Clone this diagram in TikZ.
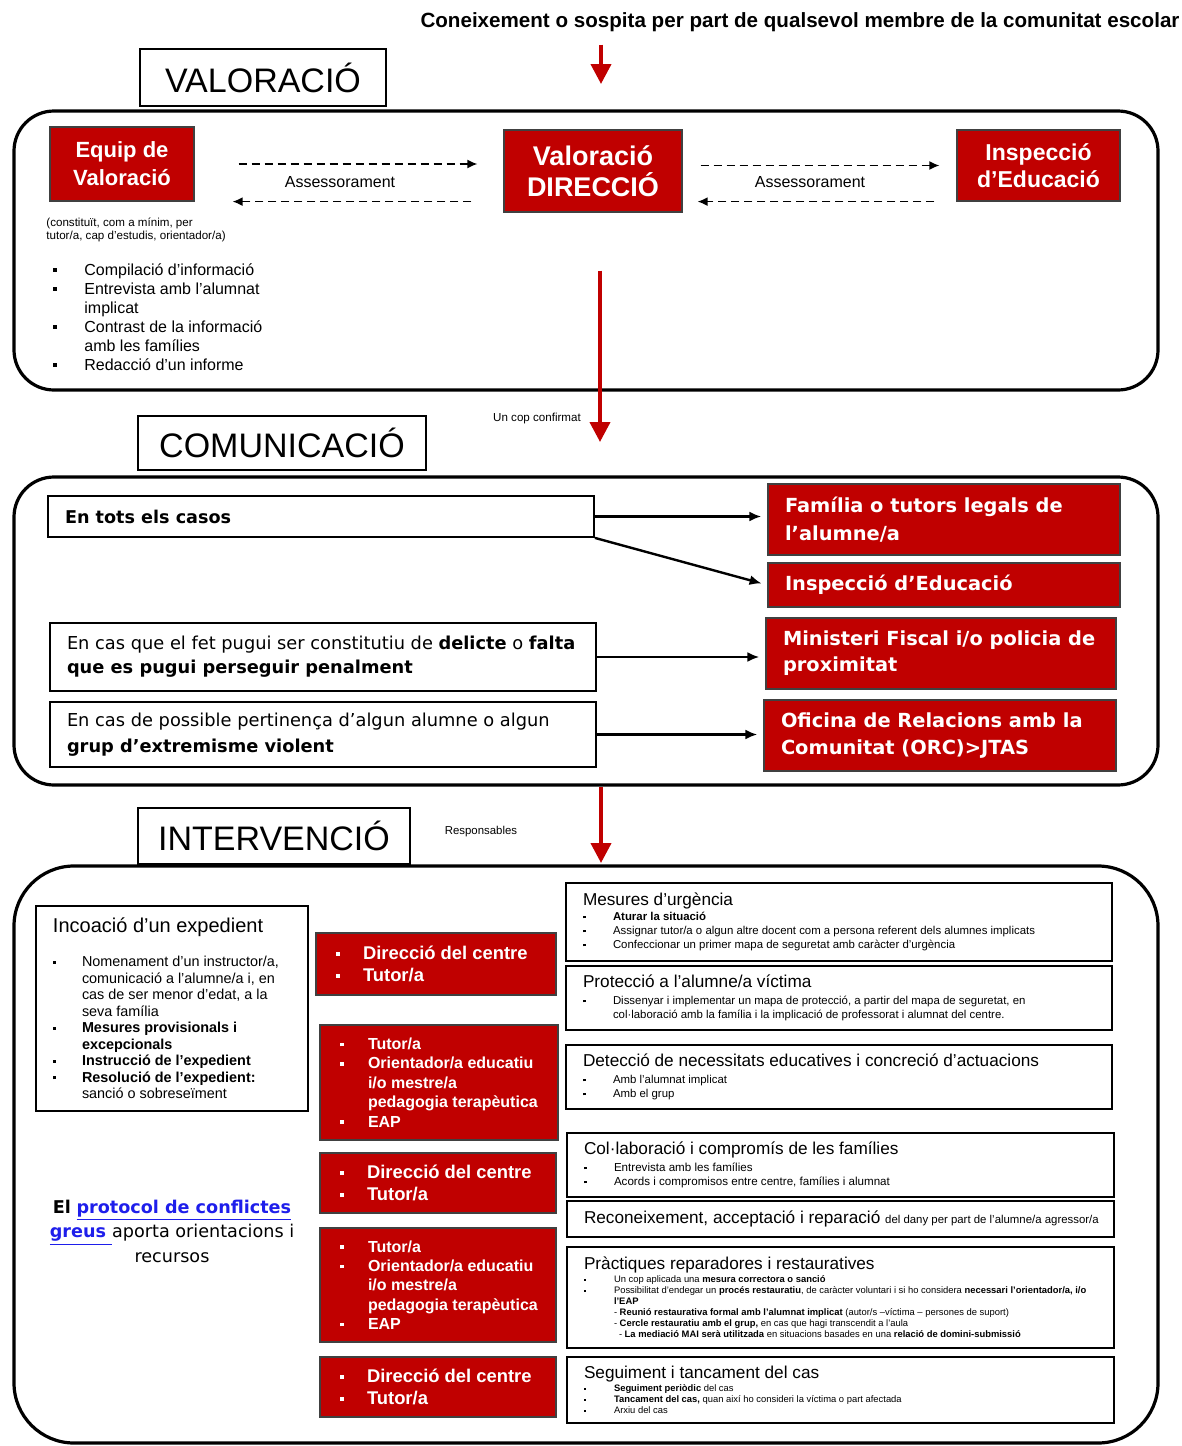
\documentclass[tikz,border=0pt]{standalone}
\usepackage{fontspec}
\setmainfont{Liberation Sans}
\newfontfamily\verd{DejaVu Sans}
\usepackage{tikz}
\usetikzlibrary{arrows.meta}
\definecolor{cred}{RGB}{192,0,0}
\definecolor{clink}{RGB}{30,30,235}
\newcommand{\fsz}[2]{\fontsize{#1}{#2}\selectfont}
\newcommand{\sqb}{\raisebox{0.2em}{\rule{0.22em}{0.22em}}}
\newcommand{\li}[2]{\mbox{\makebox[#1][l]{\sqb}#2}}
\newcommand{\lc}[2]{\mbox{\hspace*{#1}#2}}
\newcommand{\boxhead}[1]{{\fsz{8.6}{10}#1\par}}

\begin{document}
\begin{tikzpicture}[x=0.5pt, y=-0.5pt,
	redbox/.style={draw=black!75, line width=0.6pt, fill=cred, text=white, inner xsep=8.5pt},
	wbox/.style={draw=black, line width=0.9pt, fill=white, inner xsep=8.5pt},
	tagbox/.style={draw=black, line width=1pt, fill=white, font=\fsz{17}{20}},
	bigframe/.style={draw=black, line width=1.6pt, rounded corners=20pt},
	redarr/.style={draw=cred, line width=2pt, -{Triangle[width=10pt,length=10pt]}},
	blkarr/.style={line width=1.2pt, -{Latex[length=6pt,width=5pt]}, shorten >=3pt},
	dasharr/.style={line width=0.8pt, dash pattern=on 4pt off 2.5pt, -{Latex[length=5pt,width=4.5pt]}}]
	\useasboundingbox (0, 0) rectangle (1182, 1446);
	% Valoracio:
	\node[font=\bfseries\fsz{10.3}{12}](origen) at (800, 22){Coneixement o sospita per part de qualsevol membre de la comunitat escolar};
	\coordinate (o1) at (601, 84);
	\draw[redarr, shorten <=3pt] (origen.south -| o1) -- (o1);
	\node[tagbox, minimum width=123pt, minimum height=28.5pt](valtag) at (263, 77.5){VALORACIÓ};
	\draw[bigframe] (14, 111) rectangle (1158, 390);
	\node[redbox, minimum width=72pt, minimum height=37pt, align=center, font=\bfseries\fsz{11}{14}](equip) at (122, 164){Equip de\\Valoració};
	\node[redbox, minimum width=89pt, minimum height=41pt, align=center, font=\bfseries\fsz{13.5}{15.5}](dir) at (593, 171){Valoració\\DIRECCIÓ};
	\node[redbox, minimum width=81.5pt, minimum height=35.5pt, align=center, font=\bfseries\fsz{11.5}{13.5}](insp) at (1038.5, 165.5){Inspecció\\d’Educació};
	\draw[dasharr, shorten <=22pt, shorten >=13pt] (equip.east) -- (equip.east -| dir.west);
	\draw[dasharr, shorten <=16pt, shorten >=19pt] (dir.west |- equip.south) -- (equip.south east);
	\draw[dasharr, shorten <=9pt, shorten >=8.5pt] (dir.east |- insp.center) -- (insp.west);
	\draw[dasharr, shorten <=11pt, shorten >=7.5pt] (insp.south west) -- (insp.south west -| dir.east);
	\node[font=\fsz{8}{9}](as1) at (340, 182){Assessorament};
	\node[font=\fsz{8}{9}](as2) at (810, 182){Assessorament};
	\node[anchor=north west, inner sep=0pt, align=left, font=\fsz{5.8}{6.5}](constit) at (46, 218){(constituït, com a mínim, per\\tutor/a, cap d’estudis, orientador/a)};
	\node[anchor=north west, inner sep=0pt, align=left, font=\fsz{8}{9.5}](tasques) at (53, 263){\li{15.5pt}{Compilació d’informació}\\\li{15.5pt}{Entrevista amb l’alumnat}\\\lc{15.5pt}{implicat}\\\li{15.5pt}{Contrast de la informació}\\\lc{15.5pt}{amb les famílies}\\\li{15.5pt}{Redacció d’un informe}};
	\coordinate (c1) at (600, 442);
	\draw[redarr, shorten <=29pt] (dir.south -| c1) -- (c1);
	\node[font=\fsz{5.8}{7}](confirmat) at (537, 418){Un cop confirmat};
	% Comunicacio:
	\node[tagbox, minimum width=144pt, minimum height=27pt](comtag) at (282, 443){COMUNICACIÓ};
	\draw[bigframe] (14, 477) rectangle (1158, 785);
	\node[wbox, minimum width=273pt, minimum height=20.5pt, text width=256pt, align=flush left, font=\verd\bfseries\fsz{8.8}{12}](tots) at (321, 516.5){En tots els casos};
	\node[redbox, minimum width=176pt, minimum height=35.5pt, text width=159pt, align=flush left, font=\verd\bfseries\fsz{9.7}{14}](familia) at (944, 519.5){Família o tutors legals de\\l’alumne/a};
	\node[redbox, minimum width=176pt, minimum height=22pt, text width=159pt, align=flush left, font=\verd\bfseries\fsz{9.7}{14}](inspb) at (944, 585){Inspecció d’Educació};
	\node[wbox, minimum width=273pt, minimum height=34pt, text width=256pt, align=flush left, font=\verd\fsz{8.9}{12}](delicte) at (323, 657){\mbox{En cas que el fet pugui ser constitutiu de \textbf{delicte} o \textbf{falta}}\\\textbf{que es pugui perseguir penalment}};
	\node[redbox, minimum width=175pt, minimum height=35.5pt, text width=158pt, align=flush left, font=\verd\bfseries\fsz{9.7}{13}](fiscal) at (941, 653.5){Ministeri Fiscal i/o policia de\\proximitat};
	\node[wbox, minimum width=273pt, minimum height=32.5pt, text width=256pt, align=flush left, font=\verd\fsz{8.9}{13}](extrem) at (323, 734.5){\mbox{En cas de possible pertinença d’algun alumne o algun}\\\textbf{grup d’extremisme violent}};
	\node[redbox, minimum width=176pt, minimum height=35.5pt, text width=159pt, align=flush left, font=\verd\bfseries\fsz{9.7}{13.5}](orc) at (940, 735.5){Oficina de Relacions amb la\\Comunitat (ORC)>JTAS};
	\draw[blkarr] (tots.east) -- (tots.east -| familia.west);
	\draw[blkarr] (tots.south east) -- (inspb.west);
	\draw[blkarr] (delicte.east) -- (delicte.east -| fiscal.west);
	\draw[blkarr] (extrem.east) -- (extrem.east -| orc.west);
	\coordinate (i0) at (601, 787);
	\coordinate (i1) at (601, 863);
	\draw[redarr] (i0) -- (i1);
	% Intervencio:
	\node[tagbox, minimum width=136pt, minimum height=28pt](inttag) at (274, 836){INTERVENCIÓ};
	\node[font=\fsz{5.7}{7}](resp) at (481, 832){Responsables};
	\draw[bigframe, rounded corners=30pt] (14, 866) rectangle (1158, 1443);
	\node[wbox, minimum width=136pt, minimum height=102.5pt, text width=119pt, align=flush left](incoa) at (172, 1008.5){{\fsz{10}{12}Incoació d’un expedient\par}\vspace{8.8pt}{\fsz{7.2}{8.25}\li{14.5pt}{Nomenament d’un instructor/a,}\\\lc{14.5pt}{comunicació a l’alumne/a i, en}\\\lc{14.5pt}{cas de ser menor d’edat, a la}\\\lc{14.5pt}{seva família}\\\li{14.5pt}{\textbf{Mesures provisionals i}}\\\lc{14.5pt}{\textbf{excepcionals}}\\\li{14.5pt}{\textbf{Instrucció de l’expedient}}\\\li{14.5pt}{\textbf{Resolució de l’expedient:}}\\\lc{14.5pt}{sanció o sobreseïment}\par}};
	\node[align=center, font=\verd\fsz{8.8}{12.25}](protocol) at (172, 1231){\textbf{El} \textcolor{clink}{\textbf{\underline{protocol de conflictes}}}\\\textcolor{clink}{\textbf{\underline{greus\ }}}aporta orientacions i\\recursos};
	\node[redbox, minimum width=120pt, minimum height=31pt, text width=100pt, inner xsep=10pt, align=flush left, font=\bfseries\fsz{9.2}{11}](resp1) at (436, 964){\li{13.5pt}{Direcció del centre}\\\li{13.5pt}{Tutor/a}};
	\node[redbox, minimum width=119pt, minimum height=57.5pt, text width=99pt, inner xsep=10pt, align=flush left, font=\bfseries\fsz{8}{9.7}](resp2) at (439, 1082.5){\li{14pt}{Tutor/a}\\\li{14pt}{Orientador/a educatiu}\\\lc{14pt}{i/o mestre/a}\\\lc{14pt}{pedagogia terapèutica}\\\li{14pt}{EAP}};
	\node[redbox, minimum width=118pt, minimum height=30pt, text width=98pt, inner xsep=10pt, align=flush left, font=\bfseries\fsz{9.2}{11}](resp3) at (438, 1183){\li{13.5pt}{Direcció del centre}\\\li{13.5pt}{Tutor/a}};
	\node[redbox, minimum width=118pt, minimum height=57pt, text width=98pt, inner xsep=10pt, align=flush left, font=\bfseries\fsz{8}{9.7}](resp4) at (438, 1285){\li{14pt}{Tutor/a}\\\li{14pt}{Orientador/a educatiu}\\\lc{14pt}{i/o mestre/a}\\\lc{14pt}{pedagogia terapèutica}\\\li{14pt}{EAP}};
	\node[redbox, minimum width=118pt, minimum height=30pt, text width=98pt, inner xsep=10pt, align=flush left, font=\bfseries\fsz{9.2}{11}](resp5) at (438, 1387){\li{13.5pt}{Direcció del centre}\\\li{13.5pt}{Tutor/a}};
	\node[wbox, minimum width=273pt, minimum height=39pt, text width=256pt, align=flush left](urgencia) at (839, 922){\boxhead{Mesures d’urgència}\vspace{0.5pt}{\fsz{5.7}{7}\li{15pt}{\textbf{Aturar la situació}}\\\li{15pt}{Assignar tutor/a o algun altre docent com a persona referent dels alumnes implicats}\\\li{15pt}{Confeccionar un primer mapa de seguretat amb caràcter d’urgència}\par}};
	\node[wbox, minimum width=273pt, minimum height=32pt, text width=256pt, align=flush left](proteccio) at (839, 998){\boxhead{Protecció a l’alumne/a víctima}\vspace{1.5pt}{\fsz{5.7}{7}\li{15pt}{Dissenyar i implementar un mapa de protecció, a partir del mapa de seguretat, en}\\\lc{15pt}{col·laboració amb la família i la implicació de professorat i alumnat del centre.}\par}};
	\node[wbox, minimum width=273pt, minimum height=32pt, text width=256pt, align=flush left](deteccio) at (839, 1077){\boxhead{Detecció de necessitats educatives i concreció d’actuacions}\vspace{1.5pt}{\fsz{5.7}{7}\li{15pt}{Amb l’alumnat implicat}\\\li{15pt}{Amb el grup}\par}};
	\node[wbox, minimum width=273.5pt, minimum height=32pt, text width=256.5pt, align=flush left](families) at (840.5, 1165){\boxhead{Col·laboració i compromís de les famílies}\vspace{1.5pt}{\fsz{5.8}{7}\li{15pt}{Entrevista amb les famílies}\\\li{15pt}{Acords i compromisos entre centre, famílies i alumnat}\par}};
	\node[wbox, minimum width=273.5pt, minimum height=18pt, text width=256.5pt, align=flush left](reparacio) at (840.5, 1219){\mbox{\fsz{8.6}{10}Reconeixement, acceptació i reparació {\fsz{5.7}{7}del dany per part de l’alumne/a agressor/a}}};
	\node[wbox, minimum width=273.5pt, minimum height=50.5pt, text width=256.5pt, align=flush left](practiques) at (840.5, 1297.5){\boxhead{Pràctiques reparadores i restauratives}\vspace{1pt}{\fsz{4.7}{5.5}\li{15pt}{Un cop aplicada una \textbf{mesura correctora o sanció}}\\\li{15pt}{Possibilitat d’endegar un \textbf{procés restauratiu}, de caràcter voluntari i si ho considera \textbf{necessari l’orientador/a, i/o}}\\\lc{15pt}{\textbf{l’EAP}}\\\lc{15pt}{- \textbf{Reunió restaurativa formal amb l’alumnat implicat} (autor/s –víctima – persones de suport)}\\\lc{15pt}{- \textbf{Cercle restauratiu amb el grup,} en cas que hagi transcendit a l’aula}\\\lc{17.5pt}{- \textbf{La mediació MAI serà utilitzada} en situacions basades en una \textbf{relació de domini-submissió}}\par}};
	\node[wbox, minimum width=273.5pt, minimum height=33pt, text width=256.5pt, align=flush left](seguiment) at (840.5, 1390){\boxhead{Seguiment i tancament del cas}\vspace{1pt}{\fsz{4.7}{5.5}\li{15pt}{\textbf{Seguiment periòdic} del cas}\\\li{15pt}{\textbf{Tancament del cas,} quan així ho consideri la víctima o part afectada}\\\li{15pt}{Arxiu del cas}\par}};
\end{tikzpicture}
\end{document}
